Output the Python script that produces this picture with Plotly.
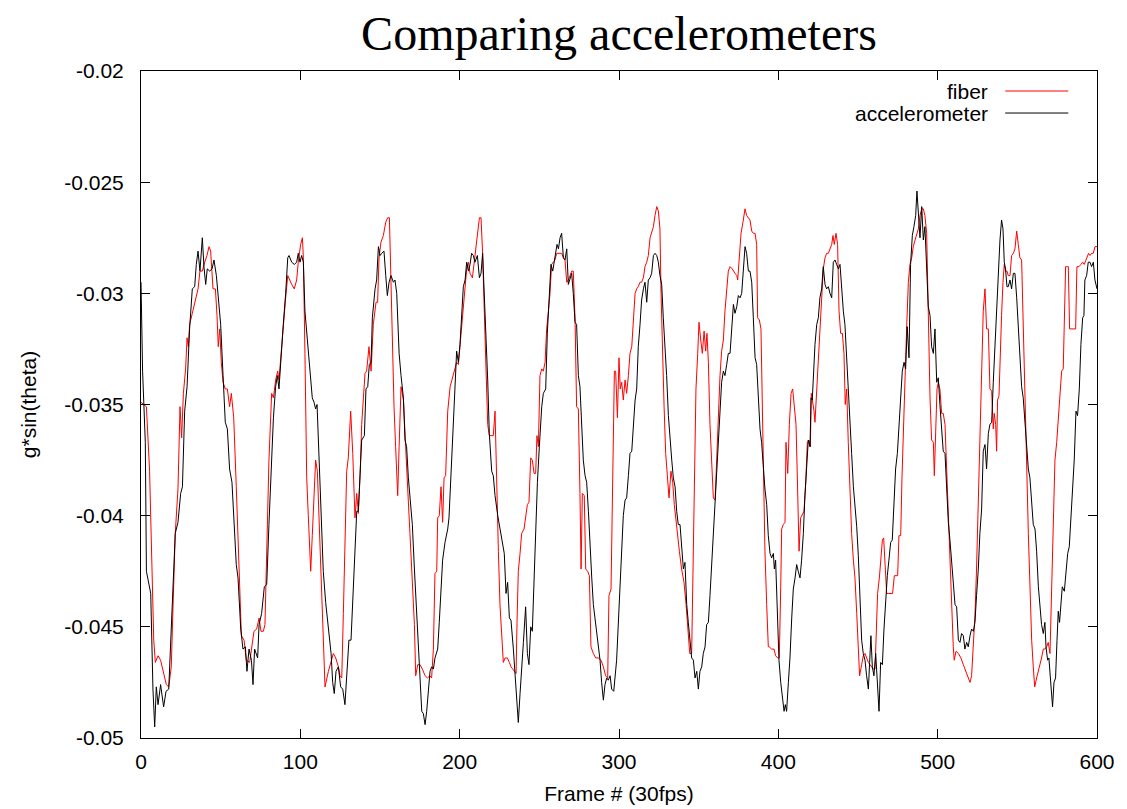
import plotly.graph_objects as go

# ---------------- data ----------------
accel_frame = [0, 1, 2.7, 3.4, 6.1, 7.5, 8.6, 9.6, 10.7, 12.3, 14.2, 15.7, 17.4, 18.6, 20.1, 21.5, 23.2, 24.9, 26.0, 27.4,
               28.9, 30.5, 32.2, 33.7, 34.7, 35.8, 37.0, 38.5, 39.5, 40.6, 41.6, 43.1, 44.6, 45.8, 47.3, 48.8, 50.0, 51.5, 52.9, 54.2,
               55.6, 57.1, 58.8, 59.8, 60.9, 62.6, 64.0, 65.5, 66.5, 67.8, 69.3, 70.3, 71.3, 73.2, 74.1, 75.7, 77.4, 78.9, 80.3, 81.6,
               83.1, 84.5, 85.6, 86.6, 87.9, 89.3, 90.8, 92.1, 92.9, 94.6, 96.2, 97.7, 98.7, 99.8, 100.8, 101.9, 102.9, 104.6, 106.1, 107.5,
               108.6, 109.6, 110.5, 111.7, 113.0, 114.4, 115.9, 117.6, 119.3, 120.3, 121.3, 122.4, 123.9, 125.3, 126.6, 128.0, 129.5, 130.5, 131.8, 132.9,
               134.3, 135.4, 136.4, 137.5, 138.5, 140.2, 141.2, 142.3, 143.3, 144.4, 145.2, 146.9, 147.9, 149.0, 150.0, 151.1, 152.5, 153.6, 154.6, 155.7,
               156.9, 158.4, 159.4, 160.5, 162.0, 163.2, 164.7, 165.7, 166.7, 167.8, 168.8, 170.3, 171.6, 173.0, 174.1, 175.1, 176.2, 177.2, 178.3, 179.3,
               180.3, 181.4, 182.4, 183.5, 184.5, 186.2, 187.2, 188.3, 189.3, 190.8, 192.5, 193.3, 194.6, 195.6, 196.7, 198.1, 199.2, 200.2, 201.3, 202.3,
               203.4, 204.4, 205.5, 206.5, 207.5, 208.6, 209.6, 211.1, 212.4, 213.4, 214.4, 215.5, 216.5, 217.6, 218.6, 220.1, 221.1, 222.2, 223.9, 225.3,
               226.8, 228.0, 229.1, 230.1, 231.2, 232.2, 233.7, 234.7, 235.8, 236.8, 237.9, 238.9, 240.0, 241.4, 242.5, 243.5, 244.6, 245.6, 246.7, 247.7,
               248.8, 250.0, 251.5, 252.5, 254.0, 255.0, 256.3, 257.3, 258.4, 259.8, 261.1, 262.0, 263.0, 264.0, 265.1, 266.1, 267.2, 268.2, 269.3, 270.3,
               271.3, 272.4, 273.4, 274.5, 275.5, 276.6, 277.6, 278.7, 279.7, 280.8, 281.8, 282.9, 283.9, 285.4, 287.0, 288.1, 289.1, 290.2, 291.2, 292.3,
               293.3, 294.4, 295.4, 296.7, 298.5, 299.6, 300.6, 301.7, 302.7, 303.8, 304.8, 305.9, 306.9, 308.0, 309.0, 310.1, 311.1, 312.1, 313.2, 314.2,
               315.3, 316.3, 317.4, 318.4, 319.5, 320.5, 321.6, 322.6, 323.7, 324.7, 325.7, 326.8, 327.8, 328.9, 329.9, 331.0, 332.0, 333.1, 334.1, 335.2,
               336.2, 337.2, 338.3, 339.3, 340.4, 341.4, 342.5, 343.5, 344.6, 345.6, 346.7, 347.7, 348.8, 349.8, 350.8, 351.9, 352.9, 354.0, 355.0, 356.1,
               357.1, 358.2, 359.2, 360.3, 361.3, 362.4, 363.4, 364.4, 365.5, 366.5, 367.6, 368.6, 369.7, 370.7, 371.8, 372.8, 373.9, 374.9, 376.0, 377.0,
               378.0, 379.1, 380.1, 381.2, 382.2, 383.3, 384.3, 385.4, 386.4, 387.4, 388.5, 389.5, 390.6, 391.6, 392.7, 393.7, 394.8, 395.8, 396.9, 397.5,
               398.3, 399.4, 400.4, 401.5, 402.5, 403.6, 404.4, 405.2, 406.3, 407.3, 408.4, 409.4, 410.5, 411.5, 412.5, 413.6, 414.6, 415.7, 416.7, 417.8,
               418.8, 419.9, 420.5, 421.3, 422.2, 423.0, 424.1, 425.1, 426.1, 427.2, 428.2, 429.3, 430.3, 431.4, 432.4, 433.5, 434.5, 435.6, 436.6, 437.7,
               438.7, 439.7, 440.8, 441.8, 442.9, 443.9, 445.0, 446.0, 447.1, 448.1, 449.2, 450.2, 451.2, 452.3, 453.3, 454.4, 455.4, 456.5, 457.3, 458.1,
               459.0, 460.0, 461.1, 462.3, 463.2, 464.2, 465.3, 466.3, 467.3, 468.4, 469.4, 470.5, 471.5, 472.6, 473.6, 474.7, 475.7, 476.8, 477.8, 478.9,
               479.9, 480.9, 482.0, 483.0, 484.1, 485.1, 486.2, 487.0, 487.9, 488.9, 490.0, 491.0, 492.0, 493.1, 494.1, 495.2, 496.2, 497.3, 498.3, 499.4,
               500.4, 501.4, 502.5, 503.5, 504.6, 505.6, 506.7, 507.7, 508.8, 509.8, 510.9, 511.9, 513.0, 514.0, 515.0, 516.1, 517.1, 518.2, 519.2, 520.3,
               521.3, 522.4, 523.4, 524.4, 525.5, 526.5, 527.6, 528.6, 529.7, 530.7, 531.8, 532.8, 533.9, 534.9, 536.0, 537.0, 538.0, 539.1, 540.1, 541.0,
               541.8, 542.6, 543.5, 544.3, 545.4, 546.4, 547.5, 548.5, 549.6, 550.6, 551.6, 552.7, 553.7, 554.8, 555.8, 556.9, 557.9, 559.0, 560.0, 561.1,
               562.1, 563.2, 564.2, 565.2, 566.3, 567.3, 568.0, 569.0, 569.8, 570.7, 571.5, 572.1, 573.0, 574.0, 574.9, 575.7, 576.5, 577.4, 578.2, 579.5,
               580.5, 581.6, 582.6, 583.7, 584.7, 585.7, 586.8, 587.8, 588.9, 589.9, 591.0, 591.8, 592.4, 593.5, 594.5, 595.6, 596.6, 597.7, 598.7, 600.0]
accel_g = [-0.0295, -0.0335, -0.0367, -0.0425, -0.0435, -0.0478, -0.0495, -0.0477, -0.0485, -0.0476, -0.0486, -0.0479, -0.0478, -0.0456, -0.0432, -0.0408, -0.0403, -0.0390, -0.0387, -0.0353,
           -0.0342, -0.0316, -0.0298, -0.0297, -0.0287, -0.0281, -0.0290, -0.0275, -0.0288, -0.0296, -0.0289, -0.0290, -0.0289, -0.0285, -0.0292, -0.0303, -0.0314, -0.0337, -0.0358, -0.0361,
           -0.0379, -0.0385, -0.0408, -0.0422, -0.0428, -0.0451, -0.0460, -0.0459, -0.0470, -0.0460, -0.0465, -0.0476, -0.0460, -0.0464, -0.0449, -0.0444, -0.0432, -0.0431, -0.0404, -0.0382,
           -0.0356, -0.0342, -0.0337, -0.0343, -0.0327, -0.0314, -0.0300, -0.0284, -0.0283, -0.0286, -0.0287, -0.0286, -0.0282, -0.0286, -0.0283, -0.0286, -0.0308, -0.0324, -0.0334, -0.0347,
           -0.0349, -0.0352, -0.0350, -0.0372, -0.0391, -0.0425, -0.0439, -0.0452, -0.0462, -0.0475, -0.0480, -0.0470, -0.0468, -0.0477, -0.0478, -0.0485, -0.0468, -0.0456, -0.0456, -0.0436,
           -0.0416, -0.0398, -0.0398, -0.0379, -0.0366, -0.0364, -0.0343, -0.0342, -0.0332, -0.0331, -0.0311, -0.0298, -0.0294, -0.0279, -0.0283, -0.0282, -0.0281, -0.0292, -0.0301, -0.0295,
           -0.0292, -0.0295, -0.0294, -0.0300, -0.0327, -0.0337, -0.0347, -0.0366, -0.0369, -0.0383, -0.0391, -0.0404, -0.0424, -0.0444, -0.0460, -0.0472, -0.0488, -0.0489, -0.0494, -0.0488,
           -0.0480, -0.0470, -0.0468, -0.0469, -0.0464, -0.0460, -0.0448, -0.0435, -0.0420, -0.0412, -0.0406, -0.0401, -0.0383, -0.0366, -0.0348, -0.0326, -0.0331, -0.0323, -0.0308, -0.0297,
           -0.0294, -0.0286, -0.0290, -0.0287, -0.0282, -0.0283, -0.0286, -0.0283, -0.0293, -0.0291, -0.0282, -0.0300, -0.0319, -0.0339, -0.0363, -0.0380, -0.0382, -0.0391, -0.0400, -0.0406,
           -0.0412, -0.0417, -0.0435, -0.0430, -0.0446, -0.0447, -0.0460, -0.0472, -0.0485, -0.0493, -0.0480, -0.0467, -0.0457, -0.0441, -0.0462, -0.0467, -0.0450, -0.0452, -0.0428, -0.0404,
           -0.0385, -0.0369, -0.0351, -0.0345, -0.0343, -0.0318, -0.0303, -0.0287, -0.0290, -0.0284, -0.0278, -0.0280, -0.0275, -0.0273, -0.0284, -0.0285, -0.0280, -0.0296, -0.0293, -0.0291,
           -0.0300, -0.0313, -0.0314, -0.0337, -0.0342, -0.0361, -0.0375, -0.0382, -0.0385, -0.0398, -0.0416, -0.0428, -0.0440, -0.0449, -0.0456, -0.0465, -0.0475, -0.0483, -0.0476, -0.0473,
           -0.0474, -0.0472, -0.0478, -0.0479, -0.0465, -0.0449, -0.0432, -0.0416, -0.0400, -0.0393, -0.0392, -0.0382, -0.0372, -0.0371, -0.0359, -0.0348, -0.0343, -0.0324, -0.0314, -0.0303,
           -0.0298, -0.0295, -0.0304, -0.0294, -0.0293, -0.0291, -0.0283, -0.0282, -0.0283, -0.0286, -0.0292, -0.0296, -0.0311, -0.0323, -0.0337, -0.0355, -0.0367, -0.0375, -0.0383, -0.0387,
           -0.0398, -0.0404, -0.0404, -0.0416, -0.0424, -0.0421, -0.0440, -0.0448, -0.0456, -0.0464, -0.0465, -0.0473, -0.0470, -0.0478, -0.0470, -0.0468, -0.0462, -0.0459, -0.0449, -0.0448,
           -0.0436, -0.0422, -0.0408, -0.0393, -0.0379, -0.0363, -0.0350, -0.0340, -0.0335, -0.0337, -0.0332, -0.0327, -0.0327, -0.0314, -0.0305, -0.0309, -0.0306, -0.0301, -0.0302, -0.0300,
           -0.0290, -0.0279, -0.0282, -0.0290, -0.0290, -0.0295, -0.0311, -0.0329, -0.0332, -0.0348, -0.0361, -0.0367, -0.0379, -0.0388, -0.0395, -0.0409, -0.0417, -0.0419, -0.0417, -0.0424,
           -0.0420, -0.0440, -0.0465, -0.0475, -0.0483, -0.0488, -0.0485, -0.0488, -0.0475, -0.0464, -0.0446, -0.0433, -0.0428, -0.0422, -0.0425, -0.0428, -0.0420, -0.0408, -0.0391, -0.0379,
           -0.0366, -0.0369, -0.0347, -0.0348, -0.0335, -0.0323, -0.0314, -0.0311, -0.0302, -0.0298, -0.0288, -0.0296, -0.0298, -0.0297, -0.0300, -0.0302, -0.0286, -0.0285, -0.0287, -0.0289,
           -0.0287, -0.0298, -0.0308, -0.0314, -0.0331, -0.0343, -0.0358, -0.0372, -0.0387, -0.0395, -0.0405, -0.0418, -0.0436, -0.0456, -0.0462, -0.0465, -0.0472, -0.0478, -0.0466, -0.0454,
           -0.0468, -0.0472, -0.0462, -0.0475, -0.0488, -0.0466, -0.0467, -0.0451, -0.0438, -0.0427, -0.0420, -0.0412, -0.0411, -0.0395, -0.0379, -0.0372, -0.0359, -0.0345, -0.0335, -0.0331,
           -0.0334, -0.0315, -0.0329, -0.0287, -0.0274, -0.0270, -0.0265, -0.0254, -0.0263, -0.0275, -0.0261, -0.0276, -0.0270, -0.0289, -0.0306, -0.0310, -0.0324, -0.0327, -0.0316, -0.0340,
           -0.0338, -0.0350, -0.0359, -0.0371, -0.0372, -0.0387, -0.0403, -0.0411, -0.0420, -0.0430, -0.0440, -0.0441, -0.0456, -0.0457, -0.0453, -0.0454, -0.0460, -0.0457, -0.0459, -0.0454,
           -0.0451, -0.0452, -0.0448, -0.0436, -0.0424, -0.0408, -0.0397, -0.0371, -0.0368, -0.0379, -0.0363, -0.0359, -0.0358, -0.0340, -0.0323, -0.0303, -0.0287, -0.0276, -0.0267, -0.0271,
           -0.0286, -0.0289, -0.0297, -0.0297, -0.0294, -0.0298, -0.0291, -0.0291, -0.0302, -0.0314, -0.0327, -0.0342, -0.0347, -0.0359, -0.0371, -0.0379, -0.0383, -0.0396, -0.0404, -0.0406,
           -0.0416, -0.0432, -0.0441, -0.0449, -0.0453, -0.0448, -0.0459, -0.0465, -0.0464, -0.0472, -0.0478, -0.0486, -0.0475, -0.0473, -0.0456, -0.0443, -0.0448, -0.0438, -0.0432, -0.0434,
           -0.0424, -0.0417, -0.0414, -0.0400, -0.0393, -0.0375, -0.0353, -0.0355, -0.0343, -0.0323, -0.0311, -0.0310, -0.0294, -0.0292, -0.0286, -0.0286, -0.0288, -0.0286, -0.0294, -0.0298]

fiber_frame = [0.0, 3.4, 5.4, 6.5, 8.0, 9.0, 10.7, 12.3, 13.8, 15.9, 17.4, 19.0, 20.1, 21.5, 23.2, 24.5, 25.5, 26.6, 28.0, 28.9,
               29.7, 30.5, 32.2, 34.1, 35.8, 37.0, 38.5, 40.0, 41.4, 42.7, 43.7, 45.2, 46.7, 47.7, 48.5, 49.4, 50.4, 51.5, 52.9, 54.2,
               55.6, 56.7, 58.2, 59.8, 61.3, 63.0, 64.7, 66.1, 68.2, 69.7, 70.9, 72.6, 74.1, 75.3, 76.8, 77.8, 78.9, 80.3, 82.0, 83.1,
               84.5, 85.8, 86.6, 87.9, 89.3, 90.8, 92.1, 93.1, 94.6, 96.2, 97.7, 98.7, 100.2, 101.3, 101.9, 102.9, 104.0, 105.0, 106.5, 107.5,
               108.8, 109.6, 110.7, 111.7, 113.0, 114.0, 115.5, 117.6, 119.3, 120.7, 122.2, 123.9, 124.9, 126.0, 127.0, 128.0, 129.1, 130.1, 131.6, 132.9,
               134.3, 135.4, 136.4, 137.5, 138.5, 139.6, 140.6, 141.6, 143.1, 144.4, 145.8, 147.5, 148.5, 149.4, 150.6, 152.1, 153.6, 154.8, 155.9, 156.9,
               158.0, 158.8, 159.8, 161.1, 162.0, 163.2, 164.7, 165.7, 167.4, 168.8, 170.3, 171.6, 172.4, 173.7, 175.1, 176.6, 178.3, 179.7, 181.4, 182.4,
               183.5, 184.5, 185.6, 186.2, 187.2, 188.3, 189.3, 190.2, 191.2, 192.5, 194.0, 195.4, 197.1, 198.1, 199.2, 200.2, 201.7, 203.0, 204.4, 205.5,
               206.5, 208.0, 209.0, 210.3, 211.3, 212.4, 213.4, 214.4, 215.9, 217.6, 218.6, 220.1, 221.1, 222.2, 223.2, 224.3, 225.3, 226.4, 227.4, 228.5,
               229.9, 231.2, 232.2, 233.3, 234.3, 235.4, 236.0, 236.8, 237.9, 238.9, 240.4, 241.4, 242.5, 243.5, 244.6, 245.6, 246.7, 247.7, 248.5, 249.4,
               250.4, 251.5, 252.5, 253.6, 254.6, 255.7, 256.7, 257.7, 258.8, 259.8, 260.9, 261.9, 263.0, 264.0, 265.1, 266.1, 267.2, 268.2, 269.3, 270.3,
               271.3, 272.4, 273.4, 274.5, 275.5, 276.2, 277.0, 278.2, 279.1, 280.3, 281.4, 282.4, 283.9, 285.4, 287.0, 288.7, 290.2, 291.6, 292.9, 293.7,
               295.0, 295.8, 297.1, 297.9, 299.0, 300.0, 300.8, 301.7, 302.7, 303.8, 304.8, 305.9, 306.9, 308.0, 309.0, 310.1, 311.1, 312.1, 313.2, 314.2,
               315.3, 316.3, 317.4, 318.4, 319.5, 320.5, 321.6, 322.6, 323.7, 324.7, 325.7, 326.4, 327.2, 328.3, 329.3, 330.3, 331.4, 332.6, 333.7, 334.7,
               335.8, 336.8, 337.9, 339.3, 340.8, 342.1, 343.1, 344.4, 345.6, 346.5, 347.3, 348.3, 349.4, 350.2, 351.3, 352.3, 353.4, 354.4, 355.2, 356.1,
               357.1, 358.2, 359.2, 360.3, 361.3, 362.4, 363.4, 364.4, 365.5, 366.5, 367.6, 368.6, 369.7, 371.1, 372.8, 373.9, 374.5, 375.5, 376.6, 377.8,
               379.1, 380.1, 381.2, 382.2, 383.3, 384.3, 385.4, 386.4, 387.0, 388.1, 389.1, 390.0, 390.8, 391.6, 392.7, 393.7, 394.3, 395.8, 397.3, 398.3,
               399.6, 400.6, 401.5, 402.1, 403.1, 404.2, 404.8, 405.9, 406.9, 408.0, 409.0, 410.0, 411.1, 412.1, 413.0, 414.0, 415.1, 416.1, 417.2, 418.2,
               419.2, 420.1, 420.7, 421.5, 422.4, 423.0, 424.1, 425.1, 426.1, 427.2, 428.2, 429.3, 430.3, 431.4, 432.4, 433.5, 434.3, 435.1, 436.2, 437.2,
               438.1, 439.1, 440.2, 441.2, 442.0, 442.9, 443.9, 445.0, 446.0, 447.1, 448.1, 449.2, 450.2, 451.0, 452.3, 453.3, 454.4, 455.4, 456.5, 457.5,
               458.6, 459.6, 460.7, 461.5, 462.3, 463.4, 464.4, 465.3, 466.1, 466.9, 468.0, 469.0, 470.5, 471.7, 472.8, 473.8, 474.9, 475.7, 476.8, 477.6,
               478.4, 479.5, 480.5, 481.6, 482.6, 483.7, 484.7, 485.8, 486.8, 487.9, 488.9, 490.0, 491.0, 492.0, 493.1, 494.1, 495.2, 496.2, 497.3, 497.9,
               498.7, 499.6, 500.4, 501.4, 502.5, 503.5, 504.6, 505.6, 506.7, 507.7, 508.8, 509.8, 510.4, 511.5, 513.0, 514.6, 516.1, 517.6, 518.8, 520.3,
               521.3, 522.4, 523.4, 524.4, 525.5, 526.5, 527.6, 528.6, 529.7, 530.7, 531.8, 532.8, 533.9, 534.9, 535.5, 536.4, 537.0, 537.6, 538.5, 539.3,
               540.1, 541.0, 541.8, 542.6, 543.5, 544.3, 545.4, 546.4, 547.5, 548.5, 549.6, 550.6, 551.6, 552.7, 553.7, 554.8, 555.8, 556.9, 557.9, 559.0,
               560.0, 560.9, 562.1, 563.2, 564.2, 565.2, 566.3, 567.3, 568.4, 569.4, 570.5, 571.1, 572.0, 572.8, 573.6, 574.7, 575.7, 576.8, 577.8, 578.8,
               579.5, 580.3, 581.4, 582.0, 582.8, 584.1, 585.3, 586.6, 587.4, 588.7, 589.9, 591.0, 592.0, 592.9, 593.9, 594.7, 595.6, 596.6, 597.7, 598.7,
               600.0]
fiber_g = [-0.0349, -0.0351, -0.0380, -0.0416, -0.0456, -0.0466, -0.0463, -0.0465, -0.0470, -0.0476, -0.0477, -0.0468, -0.0441, -0.0408, -0.0388, -0.0351, -0.0365, -0.0345, -0.0334, -0.0320,
           -0.0324, -0.0314, -0.0309, -0.0303, -0.0298, -0.0290, -0.0290, -0.0286, -0.0283, -0.0279, -0.0281, -0.0298, -0.0298, -0.0310, -0.0324, -0.0316, -0.0331, -0.0340, -0.0343, -0.0343,
           -0.0351, -0.0345, -0.0356, -0.0387, -0.0422, -0.0454, -0.0456, -0.0465, -0.0466, -0.0459, -0.0452, -0.0451, -0.0446, -0.0452, -0.0452, -0.0449, -0.0420, -0.0375, -0.0345, -0.0347,
           -0.0339, -0.0335, -0.0339, -0.0327, -0.0313, -0.0302, -0.0292, -0.0294, -0.0296, -0.0298, -0.0294, -0.0286, -0.0278, -0.0275, -0.0284, -0.0327, -0.0383, -0.0400, -0.0425, -0.0409,
           -0.0388, -0.0375, -0.0380, -0.0400, -0.0424, -0.0444, -0.0477, -0.0470, -0.0465, -0.0462, -0.0464, -0.0468, -0.0472, -0.0473, -0.0444, -0.0416, -0.0380, -0.0374, -0.0353, -0.0372,
           -0.0401, -0.0390, -0.0399, -0.0382, -0.0359, -0.0347, -0.0336, -0.0335, -0.0324, -0.0335, -0.0314, -0.0304, -0.0304, -0.0284, -0.0277, -0.0274, -0.0268, -0.0266, -0.0266, -0.0295,
           -0.0335, -0.0351, -0.0369, -0.0391, -0.0369, -0.0342, -0.0348, -0.0366, -0.0388, -0.0408, -0.0428, -0.0449, -0.0472, -0.0467, -0.0467, -0.0469, -0.0472, -0.0473, -0.0472, -0.0473,
           -0.0460, -0.0426, -0.0425, -0.0401, -0.0400, -0.0387, -0.0403, -0.0383, -0.0382, -0.0353, -0.0342, -0.0338, -0.0334, -0.0331, -0.0332, -0.0324, -0.0314, -0.0300, -0.0289, -0.0286,
           -0.0291, -0.0293, -0.0287, -0.0279, -0.0273, -0.0266, -0.0266, -0.0282, -0.0319, -0.0359, -0.0364, -0.0364, -0.0364, -0.0353, -0.0388, -0.0416, -0.0440, -0.0456, -0.0466, -0.0464,
           -0.0464, -0.0466, -0.0468, -0.0469, -0.0470, -0.0471, -0.0448, -0.0425, -0.0417, -0.0408, -0.0406, -0.0401, -0.0395, -0.0394, -0.0374, -0.0375, -0.0381, -0.0381, -0.0364, -0.0369,
           -0.0337, -0.0334, -0.0335, -0.0331, -0.0316, -0.0308, -0.0300, -0.0287, -0.0286, -0.0285, -0.0282, -0.0282, -0.0282, -0.0282, -0.0284, -0.0285, -0.0295, -0.0294, -0.0292, -0.0290,
           -0.0290, -0.0311, -0.0351, -0.0352, -0.0390, -0.0424, -0.0390, -0.0391, -0.0424, -0.0425, -0.0427, -0.0459, -0.0462, -0.0464, -0.0464, -0.0465, -0.0468, -0.0472, -0.0473, -0.0436,
           -0.0433, -0.0385, -0.0335, -0.0335, -0.0356, -0.0329, -0.0343, -0.0340, -0.0348, -0.0339, -0.0345, -0.0337, -0.0327, -0.0324, -0.0311, -0.0300, -0.0298, -0.0297, -0.0295, -0.0295,
           -0.0293, -0.0288, -0.0286, -0.0283, -0.0275, -0.0273, -0.0270, -0.0265, -0.0261, -0.0263, -0.0271, -0.0300, -0.0327, -0.0351, -0.0372, -0.0382, -0.0392, -0.0380, -0.0385, -0.0395,
           -0.0403, -0.0409, -0.0416, -0.0424, -0.0430, -0.0440, -0.0449, -0.0462, -0.0462, -0.0424, -0.0375, -0.0343, -0.0327, -0.0313, -0.0321, -0.0327, -0.0317, -0.0326, -0.0318, -0.0331,
           -0.0359, -0.0377, -0.0392, -0.0393, -0.0372, -0.0351, -0.0337, -0.0326, -0.0321, -0.0308, -0.0300, -0.0290, -0.0288, -0.0289, -0.0291, -0.0292, -0.0294, -0.0282, -0.0273, -0.0268,
           -0.0262, -0.0265, -0.0266, -0.0267, -0.0272, -0.0273, -0.0273, -0.0278, -0.0311, -0.0312, -0.0316, -0.0359, -0.0391, -0.0416, -0.0440, -0.0459, -0.0459, -0.0460, -0.0460, -0.0463,
           -0.0464, -0.0464, -0.0432, -0.0406, -0.0404, -0.0403, -0.0367, -0.0381, -0.0359, -0.0345, -0.0343, -0.0351, -0.0359, -0.0388, -0.0416, -0.0401, -0.0399, -0.0398, -0.0385, -0.0367,
           -0.0366, -0.0369, -0.0345, -0.0348, -0.0353, -0.0358, -0.0343, -0.0334, -0.0318, -0.0305, -0.0289, -0.0284, -0.0282, -0.0282, -0.0280, -0.0278, -0.0274, -0.0278, -0.0273, -0.0278,
           -0.0308, -0.0318, -0.0318, -0.0327, -0.0350, -0.0343, -0.0367, -0.0391, -0.0408, -0.0420, -0.0428, -0.0444, -0.0460, -0.0472, -0.0467, -0.0463, -0.0462, -0.0464, -0.0466, -0.0467,
           -0.0468, -0.0469, -0.0469, -0.0446, -0.0435, -0.0428, -0.0420, -0.0411, -0.0410, -0.0424, -0.0435, -0.0435, -0.0435, -0.0435, -0.0427, -0.0427, -0.0427, -0.0409, -0.0409, -0.0383,
           -0.0363, -0.0343, -0.0316, -0.0295, -0.0287, -0.0284, -0.0279, -0.0276, -0.0273, -0.0271, -0.0265, -0.0262, -0.0262, -0.0265, -0.0273, -0.0311, -0.0347, -0.0366, -0.0367, -0.0382,
           -0.0359, -0.0343, -0.0340, -0.0343, -0.0354, -0.0354, -0.0359, -0.0379, -0.0401, -0.0424, -0.0440, -0.0459, -0.0465, -0.0461, -0.0462, -0.0464, -0.0467, -0.0470, -0.0473, -0.0475,
           -0.0472, -0.0459, -0.0445, -0.0424, -0.0391, -0.0359, -0.0337, -0.0308, -0.0298, -0.0316, -0.0316, -0.0343, -0.0344, -0.0361, -0.0354, -0.0359, -0.0371, -0.0348, -0.0346, -0.0324,
           -0.0310, -0.0295, -0.0287, -0.0290, -0.0290, -0.0292, -0.0292, -0.0283, -0.0282, -0.0280, -0.0272, -0.0278, -0.0284, -0.0285, -0.0311, -0.0343, -0.0375, -0.0408, -0.0436, -0.0456,
           -0.0468, -0.0477, -0.0473, -0.0470, -0.0467, -0.0464, -0.0460, -0.0460, -0.0459, -0.0457, -0.0462, -0.0443, -0.0424, -0.0400, -0.0375, -0.0367, -0.0356, -0.0342, -0.0335, -0.0334,
           -0.0311, -0.0288, -0.0288, -0.0288, -0.0316, -0.0316, -0.0316, -0.0316, -0.0288, -0.0288, -0.0287, -0.0286, -0.0287, -0.0285, -0.0283, -0.0282, -0.0283, -0.0282, -0.0282, -0.0279,
           -0.0279]

x_ticks = [0, 100, 200, 300, 400, 500, 600]
y_ticks = [-0.05, -0.045, -0.04, -0.035, -0.03, -0.025, -0.02]
y_tick_labels = ["-0.05", "-0.045", "-0.04", "-0.035", "-0.03", "-0.025", "-0.02"]

series_names = ["fiber", "accelerometer"]
series_colors = ["#ff0000", "#000000"]

# ---------------- figure ----------------
fig = go.Figure()
fig.add_trace(go.Scatter(x=fiber_frame, y=fiber_g, mode="lines", name=series_names[0],
                         line=dict(color=series_colors[0], width=1), showlegend=False))
fig.add_trace(go.Scatter(x=accel_frame, y=accel_g, mode="lines", name=series_names[1],
                         line=dict(color=series_colors[1], width=1), showlegend=False))

tick_font = dict(family="Liberation Sans, Arial, sans-serif", size=21, color="black")

fig.update_layout(
    width=1127, height=809,
    margin=dict(l=133, r=38, t=63, b=79),
    paper_bgcolor="white", plot_bgcolor="white",
    title=dict(text="Comparing accelerometers", x=0.5, xref="paper", xanchor="center",
               y=0.9693, yref="container", yanchor="middle",
               font=dict(family="Liberation Serif, Times New Roman, serif", size=48, color="black")),
    xaxis=dict(range=[0, 600], tickvals=x_ticks, ticks="inside", ticklen=9, tickcolor="black",
               showline=True, linecolor="black", linewidth=1, mirror="ticks", showgrid=False,
               zeroline=False, tickfont=tick_font, ticklabelstandoff=5,
               title=dict(text="Frame # (30fps)", font=tick_font, standoff=14)),
    yaxis=dict(range=[-0.05, -0.02], tickvals=y_ticks, ticktext=y_tick_labels, ticks="inside",
               ticklen=9, tickcolor="black", showline=True, linecolor="black", linewidth=1,
               mirror="ticks", showgrid=False, zeroline=False, tickfont=tick_font,
               ticklabelstandoff=12,
               title=dict(text="g*sin(theta)", font=tick_font, standoff=21)),
)

# gnuplot-style key: text right-aligned, line sample to the right
key_y = [0.970, 0.937]
for name, color, ky in zip(series_names, series_colors, key_y):
    fig.add_annotation(x=0.888, y=ky, xref="paper", yref="paper", text=name, showarrow=False,
                       xanchor="right", yanchor="middle", font=tick_font)
    fig.add_shape(type="line", xref="paper", yref="paper", x0=0.904, x1=0.970, y0=ky, y1=ky,
                  line=dict(color=color, width=1))

fig.write_html("out.html")
